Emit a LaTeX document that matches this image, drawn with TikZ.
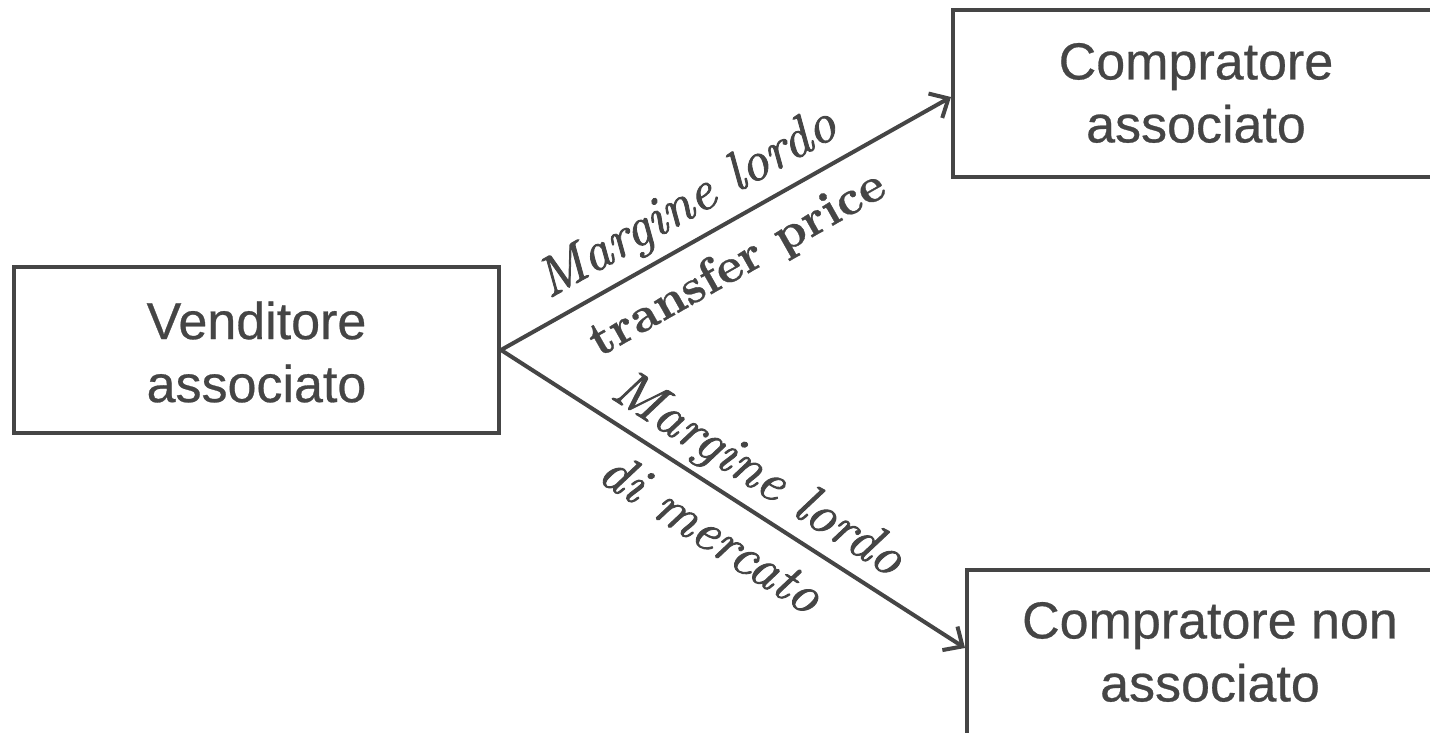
\documentclass[tikz,border=0pt]{standalone}
\usepackage{fontspec}
\setmainfont{Liberation Sans}[FakeBold=0.5]
\newfontfamily\labfont{lmroman10}[Extension=.otf, UprightFont=*-regular, BoldFont=*-bold, ItalicFont=*-italic, ItalicFeatures={FakeBold=1.6}, BoldFeatures={FakeBold=0.6}]
\usetikzlibrary{arrows.meta}
\definecolor{ink}{HTML}{454545}
\tikzset{
  box/.style={draw=ink, line width=4pt, minimum width=485pt, inner sep=0pt},
  boxtext/.style={text=ink, align=center, font=\fontsize{52}{63}\selectfont, inner sep=0pt},
  conn/.style={draw=ink, line width=4pt, -{Straight Barb[length=15pt,width=28pt,line width=4pt]}},
  lab/.style={text=ink, inner sep=0pt, font=\labfont\fontsize{55}{57}\selectfont}
}
\begin{document}
\begin{tikzpicture}[x=1pt,y=1pt]
\useasboundingbox (0,0) rectangle (1430,733);
\node[box, minimum height=166pt] (v) at (256.5,383) {};
\node[boxtext] (vt) at (256.5,381) {Venditore\\associato};
\node[box, minimum height=167pt, minimum width=487pt] (ca) at (1196.5,639.5) {};
\node[boxtext] (cat) at (1196,640) {Compratore\\associato};
\node[box, minimum height=176pt, minimum width=486pt] (cn) at (1210,75) {};
\node[boxtext] (cnt) at (1210,81) {Compratore non\\associato};
\draw[conn] (v.east) -- ([yshift=-3.5pt]ca.west);
\draw[conn] (v.east) -- ([yshift=10pt]cn.west);
\node[lab, rotate=29.45] (l1) at (688,528) {\itshape Margine lordo};
\node[lab, rotate=29.45, font=\labfont\fontsize{49}{51}\selectfont] (l2) at (738,468) {\bfseries transfer price};
\node[lab, rotate=-32.65] (l3) at (757,257) {\itshape Margine lordo};
\node[lab, rotate=-32.65] (l4) at (712,201) {\itshape di mercato};
\end{tikzpicture}
\end{document}
